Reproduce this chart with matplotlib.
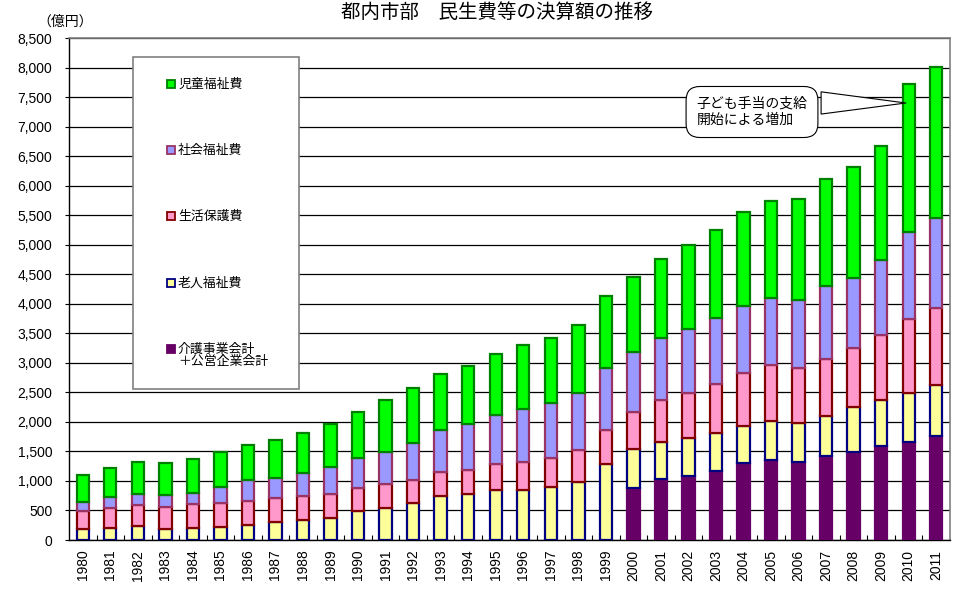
import matplotlib
matplotlib.use("Agg")
import matplotlib.pyplot as plt
from matplotlib.patches import Rectangle
import numpy as np

plt.rcParams['font.family'] = ['Liberation Sans', 'Noto Sans CJK JP', 'DejaVu Sans']

years = [str(y) for y in range(1980, 2012)]

# 介護事業会計＋公営企業会計
kaigo = [0] * 20 + [875, 1027, 1083, 1174, 1298, 1354, 1315, 1422, 1495, 1591, 1665, 1766]
# 老人福祉費
rojin = [181, 209, 237, 181, 198, 226, 254, 300, 339, 378,
         491, 547, 621, 750, 773, 846, 846, 903, 988, 1281,
         660, 638, 638, 632, 632, 666, 660, 677, 762, 779, 829, 858]
# 生活保護費
seikatsu = [310, 327, 356, 383, 406, 406, 406, 406, 406, 401,
            384, 401, 395, 396, 412, 441, 469, 491, 536, 581,
            637, 705, 762, 829, 903, 943, 943, 960, 999, 1101, 1242, 1298]
# 社会福祉費
shakai = [152, 186, 186, 192, 197, 271, 356, 338, 394, 451,
          519, 547, 621, 716, 774, 829, 898, 920, 970, 1044,
          1016, 1044, 1084, 1118, 1128, 1139, 1145, 1241, 1185, 1269, 1473, 1524]
# 児童福祉費
jido = [457, 491, 547, 548, 570, 582, 598, 649, 678, 729,
        778, 875, 942, 948, 987, 1027, 1088, 1100, 1146, 1230,
        1270, 1338, 1427, 1495, 1587, 1637, 1710, 1812, 1879, 1936, 2506, 2567]

series = [
    ("介護事業会計\n＋公営企業会計", kaigo, "#660066", "#660066"),
    ("老人福祉費", rojin, "#FFFF99", "#000080"),
    ("生活保護費", seikatsu, "#FF99CC", "#800000"),
    ("社会福祉費", shakai, "#9999FF", "#993366"),
    ("児童福祉費", jido, "#00FF00", "#008000"),
]

title = "都内市部　民生費等の決算額の推移"
unit_label = "（億円）"
callout = "子ども手当の支給\n開始による増加"

fig = plt.figure(figsize=(9.55, 5.89), dpi=100)
ax = fig.add_axes([69/955, 49/589, 881/955, 502/589])

x = np.arange(len(years))
bottom = np.zeros(len(years))
for name, vals, fc, ec in series:
    v = np.array(vals, dtype=float)
    ax.bar(x, v, width=0.45, bottom=bottom, color=fc, edgecolor=ec,
           linewidth=1.6, zorder=3)
    bottom += v

ax.set_xlim(-0.5, len(years) - 0.5)
ax.set_ylim(0, 8500)
ax.set_yticks(np.arange(0, 8501, 500))
ax.set_yticklabels([f"{v:,}" for v in range(0, 8501, 500)], fontsize=10)
ax.set_xticks(x)
ax.set_xticklabels(years, rotation=90, fontsize=10)
ax.set_xticks(np.arange(0.5, len(years) - 0.5, 1), minor=True)
ax.tick_params(axis='x', which='major', length=0, pad=7)
ax.tick_params(axis='x', which='minor', direction='in', length=3.5, width=0.8)
ax.tick_params(axis='y', which='major', direction='out', length=3, pad=9)
ax.yaxis.grid(True, color='black', linewidth=0.9)
ax.set_axisbelow(True)
for s in ['top', 'right']:
    ax.spines[s].set_color('#808080')
    ax.spines[s].set_linewidth(1.2)
for s in ['left', 'bottom']:
    ax.spines[s].set_color('black')
    ax.spines[s].set_linewidth(1.0)

fig.text(497/955, 1 - 2/589, title, ha='center', va='top', fontsize=14,
         family=['Noto Sans CJK JP'])
fig.text(65/955, 1 - 22/589, unit_label, ha='center', va='center', fontsize=10,
         family=['Noto Sans CJK JP'])

# legend box
leg_box = Rectangle((133/955, 1 - 389/589), 166/955, 332/589, transform=fig.transFigure,
                    facecolor='white', edgecolor='#808080', linewidth=1.2, zorder=10,
                    clip_on=False)
fig.patches.append(leg_box)
entry_y = [84, 150, 216, 283, 349]
for (name, vals, fc, ec), yy in zip(series[::-1], entry_y):
    sq = Rectangle((167/955, 1 - (yy + 4)/589), 8/955, 8/589, transform=fig.transFigure,
                   facecolor=fc, edgecolor=ec, linewidth=1.3, zorder=11)
    fig.patches.append(sq)
    lines = name.split("\n")
    for i, ln in enumerate(lines):
        fig.text(178/955, 1 - (yy + i * 13)/589, ln, ha='left', va='center',
                 fontsize=9.3, family=['Noto Sans CJK JP'], zorder=12)

# callout annotation
ax.annotate(callout, xy=(30, (540 - 103) * 8500 / 502), xycoords='data',
            xytext=(752, 589 - 112), textcoords='figure pixels',
            ha='center', va='center', multialignment='left', fontsize=10,
            family=['Noto Sans CJK JP'],
            bbox=dict(boxstyle='round,pad=0.75,rounding_size=1.0', fc='white', ec='black', lw=0.8),
            arrowprops=dict(arrowstyle='wedge,tail_width=1.6,shrink_factor=0.5',
                            fc='white', ec='black', lw=0.8,
                            connectionstyle='arc3,rad=0', relpos=(1.0, 0.8)),
            zorder=20)

fig.savefig("out.png", dpi=100)
